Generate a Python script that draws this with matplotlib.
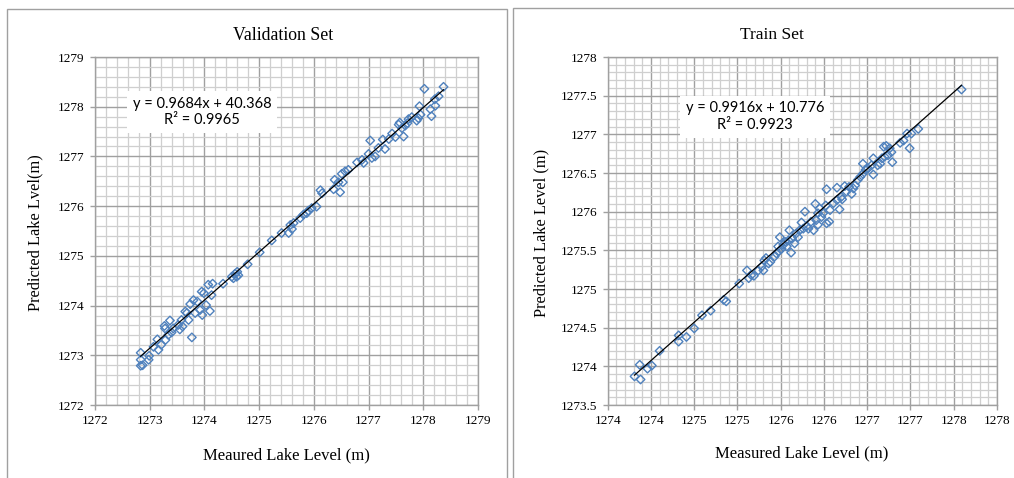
import matplotlib
matplotlib.use("Agg")
import matplotlib.pyplot as plt
from matplotlib.ticker import MultipleLocator, FixedLocator, FixedFormatter
from matplotlib.patches import Rectangle
import numpy as np

# ---------------- data ----------------
val_measured = [1272.835, 1272.835, 1272.835, 1272.87, 1272.98, 1272.99, 1273.07, 1273.14, 1273.16, 1273.21,
                1273.27, 1273.28, 1273.29, 1273.34, 1273.37, 1273.40, 1273.43, 1273.52, 1273.55, 1273.60,
                1273.58, 1273.65, 1273.68, 1273.71, 1273.74, 1273.77, 1273.80, 1273.83, 1273.87, 1273.92,
                1273.95, 1273.96, 1273.99, 1274.03, 1274.07, 1274.10, 1274.15, 1274.13, 1274.34, 1274.50,
                1274.53, 1274.56, 1274.59, 1274.60, 1274.62, 1274.79, 1275.01, 1275.23, 1275.41, 1275.54,
                1275.57, 1275.60, 1275.63, 1275.75, 1275.81, 1275.87, 1275.90, 1275.96, 1276.05, 1276.12,
                1276.15, 1276.36, 1276.38, 1276.45, 1276.48, 1276.51, 1276.53, 1276.57, 1276.63, 1276.79,
                1276.88, 1276.91, 1277.00, 1277.03, 1277.06, 1277.12, 1277.18, 1277.26, 1277.30, 1277.37,
                1277.43, 1277.49, 1277.55, 1277.57, 1277.61, 1277.64, 1277.67, 1277.71, 1277.73, 1277.79,
                1277.88, 1277.91, 1277.93, 1277.95, 1278.02, 1278.13, 1278.15, 1278.21, 1278.22, 1278.28,
                1278.37]
val_predicted = [1273.05, 1272.91, 1272.79, 1272.80, 1272.91, 1272.99, 1273.17, 1273.32, 1273.11, 1273.21,
                 1273.59, 1273.54, 1273.31, 1273.41, 1273.70, 1273.46, 1273.54, 1273.61, 1273.52, 1273.58,
                 1273.71, 1273.88, 1273.85, 1273.71, 1274.03, 1273.36, 1274.11, 1273.85, 1274.08, 1273.91,
                 1274.28, 1273.81, 1274.25, 1274.01, 1274.42, 1273.89, 1274.44, 1274.21, 1274.44, 1274.58,
                 1274.55, 1274.64, 1274.58, 1274.68, 1274.61, 1274.83, 1275.07, 1275.31, 1275.46, 1275.46,
                 1275.62, 1275.54, 1275.66, 1275.76, 1275.83, 1275.86, 1275.91, 1275.96, 1275.99, 1276.32,
                 1276.26, 1276.34, 1276.53, 1276.48, 1276.28, 1276.65, 1276.48, 1276.70, 1276.73, 1276.88,
                 1276.93, 1276.87, 1277.05, 1277.32, 1276.97, 1277.00, 1277.17, 1277.34, 1277.15, 1277.35,
                 1277.46, 1277.39, 1277.64, 1277.68, 1277.57, 1277.40, 1277.62, 1277.67, 1277.75, 1277.79,
                 1277.72, 1277.77, 1278.01, 1277.84, 1278.36, 1277.95, 1277.81, 1278.15, 1278.02, 1278.21,
                 1278.40]
val_slope, val_intercept = 0.9684, 40.368
val_equation = "y = 0.9684x + 40.368\nR² = 0.9965"

train_measured = [1273.81, 1273.87, 1273.88, 1273.96, 1274.01, 1274.10, 1274.32, 1274.32, 1274.41, 1274.50,
                  1274.59, 1274.69, 1274.84, 1274.87, 1275.02, 1275.11, 1275.13, 1275.16, 1275.19, 1275.24,
                  1275.28, 1275.30, 1275.31, 1275.33, 1275.36, 1275.38, 1275.43, 1275.45, 1275.47, 1275.48,
                  1275.49, 1275.51, 1275.53, 1275.55, 1275.57, 1275.59, 1275.60, 1275.62, 1275.63, 1275.66,
                  1275.68, 1275.70, 1275.72, 1275.74, 1275.76, 1275.78, 1275.80, 1275.82, 1275.85, 1275.88,
                  1275.90, 1275.91, 1275.93, 1275.93, 1275.95, 1275.97, 1275.99, 1276.02, 1276.03, 1276.03,
                  1276.06, 1276.07, 1276.11, 1276.15, 1276.15, 1276.18, 1276.20, 1276.21, 1276.24, 1276.26,
                  1276.29, 1276.32, 1276.34, 1276.36, 1276.39, 1276.42, 1276.45, 1276.45, 1276.48, 1276.51,
                  1276.55, 1276.57, 1276.57, 1276.62, 1276.65, 1276.67, 1276.69, 1276.70, 1276.72, 1276.74,
                  1276.76, 1276.78, 1276.79, 1276.88, 1276.92, 1276.96, 1276.99, 1277.01, 1277.09, 1277.59]
train_predicted = [1273.87, 1274.02, 1273.83, 1273.97, 1274.01, 1274.20, 1274.40, 1274.32, 1274.38, 1274.49,
                   1274.66, 1274.72, 1274.86, 1274.84, 1275.07, 1275.24, 1275.14, 1275.18, 1275.17, 1275.24,
                   1275.29, 1275.24, 1275.37, 1275.40, 1275.33, 1275.35, 1275.42, 1275.46, 1275.55, 1275.49,
                   1275.67, 1275.52, 1275.57, 1275.61, 1275.55, 1275.63, 1275.76, 1275.47, 1275.65, 1275.59,
                   1275.72, 1275.67, 1275.76, 1275.86, 1275.78, 1276.00, 1275.81, 1275.78, 1275.87, 1275.76,
                   1276.10, 1275.89, 1275.98, 1275.83, 1276.04, 1275.93, 1275.98, 1276.08, 1276.29, 1275.85,
                   1275.87, 1276.02, 1276.11, 1276.15, 1276.31, 1276.03, 1276.19, 1276.16, 1276.33, 1276.26,
                   1276.32, 1276.23, 1276.30, 1276.34, 1276.41, 1276.45, 1276.49, 1276.62, 1276.54, 1276.56,
                   1276.60, 1276.69, 1276.48, 1276.60, 1276.62, 1276.69, 1276.84, 1276.71, 1276.85, 1276.73,
                   1276.82, 1276.77, 1276.64, 1276.89, 1276.92, 1277.01, 1276.82, 1277.01, 1277.07, 1277.58]
train_slope, train_intercept = 0.9916, 10.776
train_equation = "y = 0.9916x + 10.776\nR² = 0.9923"
train_xtick_values = [1273.5, 1274.0, 1274.5, 1275.0, 1275.5, 1276.0, 1276.5, 1277.0, 1277.5, 1278.0]
train_xtick_labels = ["1274", "1274", "1275", "1275", "1276", "1276", "1277", "1277", "1278", "1278"]
train_ytick_labels = ["1273.5", "1274", "1274.5", "1275", "1275.5", "1276", "1276.5", "1277", "1277.5", "1278"]

# ---------------- figure ----------------
W, H = 1014, 478
fig = plt.figure(figsize=(W / 100, H / 100), dpi=100)
SERIF = ["Liberation Serif", "DejaVu Serif"]
SANS = ["Lato", "DejaVu Sans"]
MARK = "#4f81bd"
MAJ = "#a0a0a0"
MIN = "#cfcfcf"


def px_axes(l, r, t, b):
    return fig.add_axes([l / W, 1 - b / H, (r - l) / W, (b - t) / H])


# chart-area borders
fig.patches.append(Rectangle((7 / W, 0 - 0.02), (507 - 7) / W, (H - 9) / H + 0.02,
                             transform=fig.transFigure, fill=False, ec="#a0a0a0", lw=1.0))
fig.patches.append(Rectangle((513 / W, 0 - 0.02), (1030 - 513) / W, (H - 8) / H + 0.02,
                             transform=fig.transFigure, fill=False, ec="#a0a0a0", lw=1.0))


def style(ax, minor):
    ax.xaxis.set_minor_locator(MultipleLocator(minor))
    ax.yaxis.set_minor_locator(MultipleLocator(minor))
    ax.grid(which="minor", color=MIN, lw=0.9)
    ax.grid(which="major", color=MAJ, lw=1.0)
    ax.set_axisbelow(True)
    for s in ax.spines.values():
        s.set_color(MAJ)
        s.set_linewidth(1.0)
    ax.tick_params(which="major", direction="out", length=3.5, color=MAJ, width=1.0,
                   labelsize=9.5, pad=4)
    ax.tick_params(which="minor", length=0)
    for lab in ax.get_xticklabels() + ax.get_yticklabels():
        lab.set_family(SERIF)


# ----- Validation -----
ax1 = px_axes(95, 478, 57, 405)
ax1.set_xlim(1272, 1279)
ax1.set_ylim(1272, 1279)
ax1.xaxis.set_major_locator(MultipleLocator(1))
ax1.yaxis.set_major_locator(MultipleLocator(1))
ax1.xaxis.set_major_formatter(matplotlib.ticker.FormatStrFormatter("%d"))
ax1.yaxis.set_major_formatter(matplotlib.ticker.FormatStrFormatter("%d"))
style(ax1, 0.2)
ax1.scatter(val_measured, val_predicted, marker="D", s=19, facecolors="none",
            edgecolors=MARK, linewidths=1.0, zorder=3)
xs = np.array([min(val_measured), max(val_measured)])
ax1.plot(xs, val_slope * xs + val_intercept, color="black", lw=0.9, zorder=4)
ax1.text(0.279, 0.842, val_equation, transform=ax1.transAxes, ha="center", va="center",
         family=SANS, fontsize=10.5, linespacing=1.25, zorder=5,
         bbox=dict(facecolor="white", edgecolor="none", pad=4))
fig.text(283 / W, 1 - 36 / H, "Validation Set", ha="center", va="center", family=SERIF, fontsize=12.8)
fig.text(286 / W, 1 - 455 / H, "Meaured Lake Level (m)", ha="center", va="center", family=SERIF, fontsize=12)
fig.text(35 / W, 1 - 233 / H, "Predicted Lake Lvel(m)", ha="center", va="center", rotation=90,
         family=SERIF, fontsize=11.8)

# ----- Train -----
ax2 = px_axes(607.7, 997, 57, 405)
ax2.set_xlim(1273.5, 1278)
ax2.set_ylim(1273.5, 1278)
ax2.xaxis.set_major_locator(FixedLocator(train_xtick_values))
ax2.xaxis.set_major_formatter(FixedFormatter(train_xtick_labels))
ax2.yaxis.set_major_locator(FixedLocator(train_xtick_values))
ax2.yaxis.set_major_formatter(FixedFormatter(train_ytick_labels))
style(ax2, 0.1)
ax2.scatter(train_measured, train_predicted, marker="D", s=19, facecolors="none",
            edgecolors=MARK, linewidths=1.0, zorder=3)
xs2 = np.array([min(train_measured), max(train_measured)])
ax2.plot(xs2, train_slope * xs2 + train_intercept, color="black", lw=0.9, zorder=4)
ax2.text(0.378, 0.828, train_equation, transform=ax2.transAxes, ha="center", va="center",
         family=SANS, fontsize=10.5, linespacing=1.25, zorder=5,
         bbox=dict(facecolor="white", edgecolor="none", pad=4))
fig.text(772 / W, 1 - 35 / H, "Train Set", ha="center", va="center", family=SERIF, fontsize=12.5)
fig.text(802 / W, 1 - 453 / H, "Measured Lake Level (m)", ha="center", va="center", family=SERIF, fontsize=12)
fig.text(541 / W, 1 - 233 / H, "Predicted Lake Level (m)", ha="center", va="center", rotation=90,
         family=SERIF, fontsize=11.8)

fig.savefig("out.png", dpi=100, facecolor="white")
